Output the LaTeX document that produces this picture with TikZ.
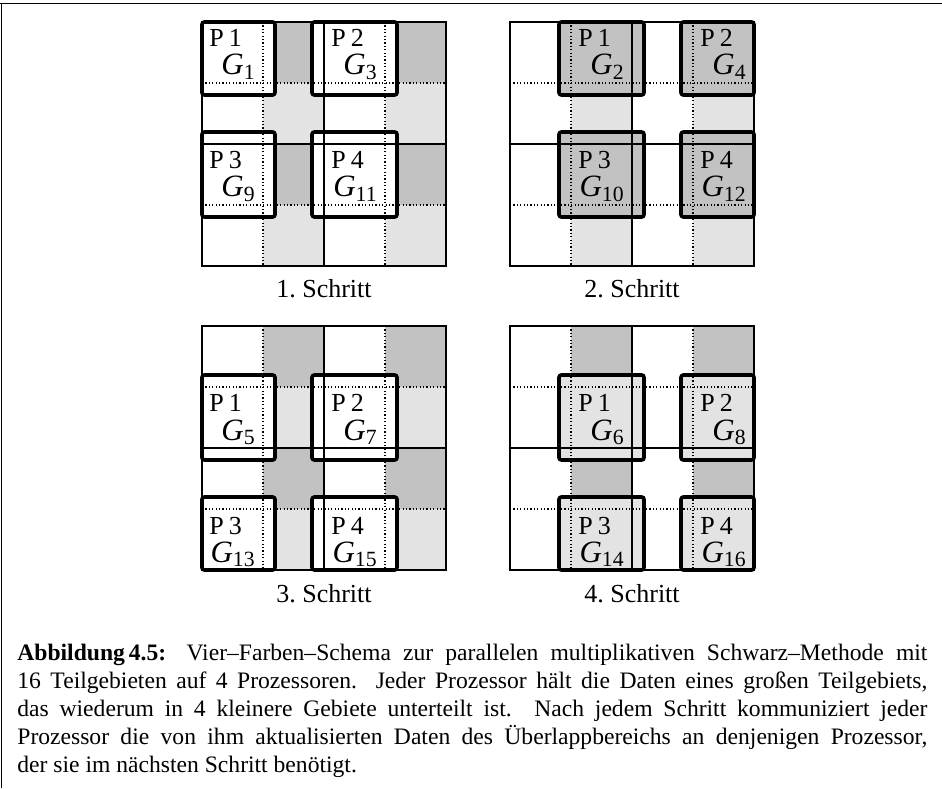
\documentclass[tikz,border=0pt]{standalone}
\usepackage{fontspec}
\setmainfont{Liberation Serif}
\usepackage{amsmath}
\usetikzlibrary{positioning}
\definecolor{cellDark}{gray}{0.76}
\definecolor{cellLight}{gray}{0.89}
\pgfdeclarelayer{shade}
\pgfdeclarelayer{fillbox}
\pgfsetlayers{shade,fillbox,main}

\begin{document}
\begin{tikzpicture}[
    x=0.5pt, y=0.5pt,
    gridline/.style={line width=0.6pt, draw=black},
    subline/.style={line width=0.55pt, dash pattern=on 0.6pt off 1.1pt},
    olapbox/.style={line width=1.8pt, rounded corners=1.2pt},
    framerule/.style={line width=0.5pt},
    plbl/.style={font=\fontsize{13}{15}\selectfont, inner sep=0pt, anchor=base west},
    glbl/.style={font=\fontsize{15.5}{17}\selectfont, inner sep=0pt, anchor=base east},
    steplbl/.style={font=\fontsize{13}{15}\selectfont, inner sep=0pt, anchor=base},
    captxt/.style={font=\fontsize{11.8}{14}\selectfont, text width=455pt,
                   align=justify, inner sep=0pt, anchor=north west},
  ]
    \useasboundingbox (0,0) rectangle (942,788);
    \draw[framerule] (0,784) -- (942,784);
    \draw[framerule] (1,0) -- (1,784);

    % four steps, one 4x4 panel each
    \foreach \s/\ox/\oy/\boxfill in {1/202/766/white, 2/510/766/cellDark,
                                     3/202/462/white, 4/510/462/cellLight}{
      % colours of the cells
      \begin{pgfonlayer}{shade}
        \foreach \i in {2,4}
          \foreach \j/\tone in {1/cellDark, 2/cellLight, 3/cellDark, 4/cellLight}
            \fill[\tone] (\ox+61*\i-61, \oy-61*\j+61) rectangle ++(61,-61);
      \end{pgfonlayer}
      % processor and subdomain borders
      \draw[gridline] (\ox,\oy) rectangle ++(244,-244);
      \draw[gridline] (\ox+122,\oy) -- ++(0,-244) (\ox,\oy-122) -- ++(244,0);
      \foreach \k in {61,183}
        \draw[subline] (\ox+\k,\oy) -- ++(0,-244) (\ox,\oy-\k) -- ++(244,0);
      % overlapping subdomains of this step
      \pgfmathtruncatemacro\ci{iseven(\s) ? 2 : 1}
      \pgfmathtruncatemacro\rj{\s>2 ? 2 : 1}
      \foreach \di in {0,2}
        \foreach \dj in {0,2}{
          \pgfmathtruncatemacro\i{\ci+\di}
          \pgfmathtruncatemacro\j{\rj+\dj}
          \pgfmathtruncatemacro\proc{\dj+\di/2+1}
          \pgfmathtruncatemacro\g{(\j-1)*4+\i}
          \pgfmathsetmacro\xa{max(\ox, \ox+61*\i-73)}
          \pgfmathsetmacro\xb{min(\ox+244, \ox+61*\i+12)}
          \pgfmathsetmacro\ya{min(\oy, \oy-61*\j+73)}
          \pgfmathsetmacro\yb{max(\oy-244, \oy-61*\j-12)}
          \begin{pgfonlayer}{fillbox}
            \fill[\boxfill] (\xa,\ya) rectangle (\xb,\yb);
          \end{pgfonlayer}
          \draw[olapbox] (\xa,\ya) rectangle (\xb,\yb);
          \node[plbl] (proc\g) at (\ox+61*\i-54, \oy-61*\j+36) {P\kern2.5pt\proc};
          \node[glbl] (dom\g) at (\ox+61*\i-7, \oy-61*\j+8) {$\textit{G}_{\text{\g}}$};
        }
      \node[steplbl] (step\s) at (\ox+122, \oy-276) {\s.\ Schritt};
    }

    \node[captxt] (capt) at (17,144) {%
      \textbf{Abbildung\,4.5:} Vier--Farben--Schema zur parallelen multiplikativen
      Schwarz--Methode mit\linebreak
      16 Teilgebieten auf 4 Prozessoren. Jeder Prozessor hält die Daten eines
      großen Teilgebiets,\linebreak
      das wiederum in 4 kleinere Gebiete unterteilt ist. Nach jedem Schritt
      kommuniziert jeder\linebreak
      Prozessor die von ihm aktualisierten Daten des Überlappbereichs an
      denjenigen Prozessor,\linebreak
      der sie im nächsten Schritt benötigt.};
  \end{tikzpicture}
\end{document}
